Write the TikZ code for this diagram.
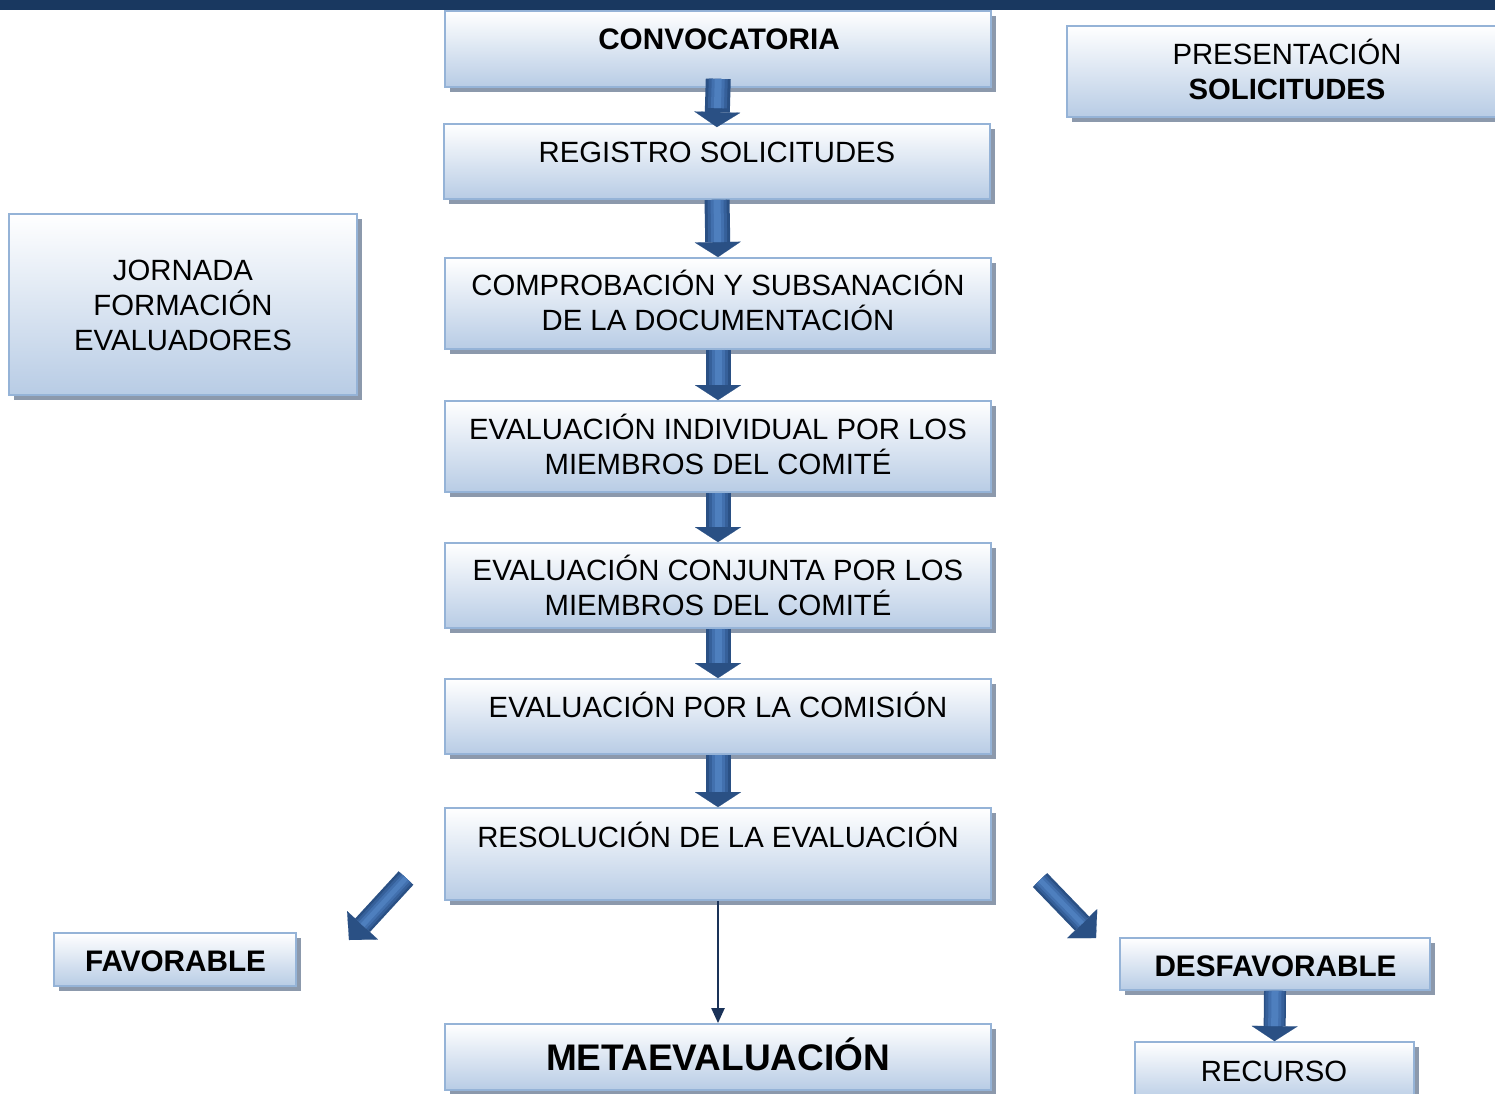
\documentclass[tikz,border=0pt]{standalone}
\usepackage{fontspec}
\setmainfont{Liberation Sans}
\usetikzlibrary{shadows,arrows.meta,calc}
\definecolor{navy}{RGB}{25,56,96}
\definecolor{boxbot}{RGB}{184,204,229}
\definecolor{boxline}{RGB}{149,179,215}
\definecolor{shad}{RGB}{140,153,172}
\definecolor{arrdark}{RGB}{42,80,132}
\definecolor{arrmid}{RGB}{54,96,154}
\definecolor{arrmid2}{RGB}{66,112,174}
\definecolor{arrlight}{RGB}{78,127,190}
\definecolor{linec}{RGB}{26,50,88}
\begin{document}
\begin{tikzpicture}[x=1pt,y=-1pt,
  box/.style={draw=boxline, line width=1.8pt, top color=white, bottom color=boxbot,
    general shadow={fill=shad, shadow xshift=5pt, shadow yshift=-5pt}, inner sep=0pt},
  txt/.style={font=\fontsize{29.3}{35}\selectfont, inner sep=0pt, text=black},
  btxt/.style={font=\fontsize{29.7}{35}\selectfont\bfseries, inner sep=0pt, text=black},
  blockarr/.style={line width=25pt, draw=arrdark, -{Triangle[width=46pt,length=15pt,line width=0.1pt]},
    postaction={draw=arrmid, line width=19pt, arrows=-, shorten >=15pt},
    postaction={draw=arrmid2, line width=13pt, arrows=-, shorten >=15pt},
    postaction={draw=arrlight, line width=7pt, arrows=-, shorten >=15pt}},
  diagarr/.style={line width=20pt, draw=arrdark, -{Triangle[width=42pt,length=20pt,line width=0.1pt]},
    postaction={draw=arrmid, line width=15pt, arrows=-, shorten >=20pt},
    postaction={draw=arrmid2, line width=10pt, arrows=-, shorten >=20pt},
    postaction={draw=arrlight, line width=5pt, arrows=-, shorten >=20pt}},
  thinarr/.style={draw=linec, line width=2.2pt, -{Triangle[width=13pt,length=15pt]}}
]
\useasboundingbox (0,0) rectangle (1495,1093);
\fill[navy] (0,0) rectangle (1495,10);

% boxes
\node[box, minimum width=546pt, minimum height=76pt] (conv) at (718,49) {};
\node[box, minimum width=438pt, minimum height=91pt] (pres) at (1286,71.5) {};
\node[box, minimum width=546pt, minimum height=75pt] (reg) at (717,161.5) {};
\node[box, minimum width=348pt, minimum height=181pt] (jorn) at (183,304.5) {};
\node[box, minimum width=546pt, minimum height=91pt] (comp) at (718,303.5) {};
\node[box, minimum width=546pt, minimum height=91pt] (evi) at (718,446.5) {};
\node[box, minimum width=546pt, minimum height=85pt] (evc) at (718,585.5) {};
\node[box, minimum width=546pt, minimum height=75pt] (com) at (718,716.5) {};
\node[box, minimum width=546pt, minimum height=92pt] (res) at (718,854) {};
\node[box, minimum width=242pt, minimum height=53pt] (fav) at (175,959.5) {};
\node[box, minimum width=310pt, minimum height=52pt] (desf) at (1275,964) {};
\node[box, minimum width=279pt, minimum height=60pt] (rec) at (1274.5,1072) {};
\node[box, minimum width=546pt, minimum height=66pt] (meta) at (718,1057) {};

% texts
\node[btxt, anchor=base] (conv-t) at (719,49.6) {CONVOCATORIA};
\node[txt, align=center] (pres-t) at (1287,69.5) {PRESENTACIÓN\\\textbf{SOLICITUDES}};
\node[txt, anchor=base] (reg-t) at (717,162.4) {REGISTRO SOLICITUDES};
\node[txt, align=center] (jorn-t) at (183,303) {\vphantom{Ó}JORNADA\\FORMACIÓN\\EVALUADORES};
\node[txt, align=center] (comp-t) at (718,300.5) {COMPROBACIÓN Y SUBSANACIÓN\\DE LA DOCUMENTACIÓN};
\node[txt, align=center] (evi-t) at (718,444.5) {EVALUACIÓN INDIVIDUAL POR LOS\\MIEMBROS DEL COMITÉ};
\node[txt, align=center] (evc-t) at (718,585.5) {EVALUACIÓN CONJUNTA POR LOS\\MIEMBROS DEL COMITÉ};
\node[txt, anchor=base] (com-t) at (718,717.4) {EVALUACIÓN POR LA COMISIÓN};
\node[txt, anchor=base] (res-t) at (718,847.4) {RESOLUCIÓN DE LA EVALUACIÓN};
\node[btxt, anchor=base] (fav-t) at (175.5,971.6) {FAVORABLE};
\node[btxt, anchor=base] (desf-t) at (1275.5,976.6) {DESFAVORABLE};
\node[txt, anchor=base] (rec-t) at (1274,1081.4) {RECURSO};
\node[btxt, anchor=base, font=\fontsize{37}{44}\selectfont\bfseries] (meta-t) at (718,1070.2) {METAEVALUACIÓN};

% block arrows
\draw[blockarr, shorten <=-9pt, shorten >=-4pt] (conv.south) -- (reg.north);
\draw[blockarr] (reg.south) -- (comp.north);
\draw[blockarr] (comp.south) -- (evi.north);
\draw[blockarr] (evi.south) -- (evc.north);
\draw[blockarr] (evc.south) -- (com.north);
\draw[blockarr] (com.south) -- (res.north);
\draw[blockarr, line width=22pt] (desf.south) -- (rec.north);

% diagonal arrows
\coordinate (fl1) at (406,878);
\coordinate (fl2) at (349,940);
\coordinate (fr1) at (1040,880);
\coordinate (fr2) at (1096,938);
\draw[diagarr] (fl1) -- (fl2);
\draw[diagarr] (fr1) -- (fr2);

% thin arrow
\draw[thinarr] (res.south) -- (meta.north);
\end{tikzpicture}
\end{document}
